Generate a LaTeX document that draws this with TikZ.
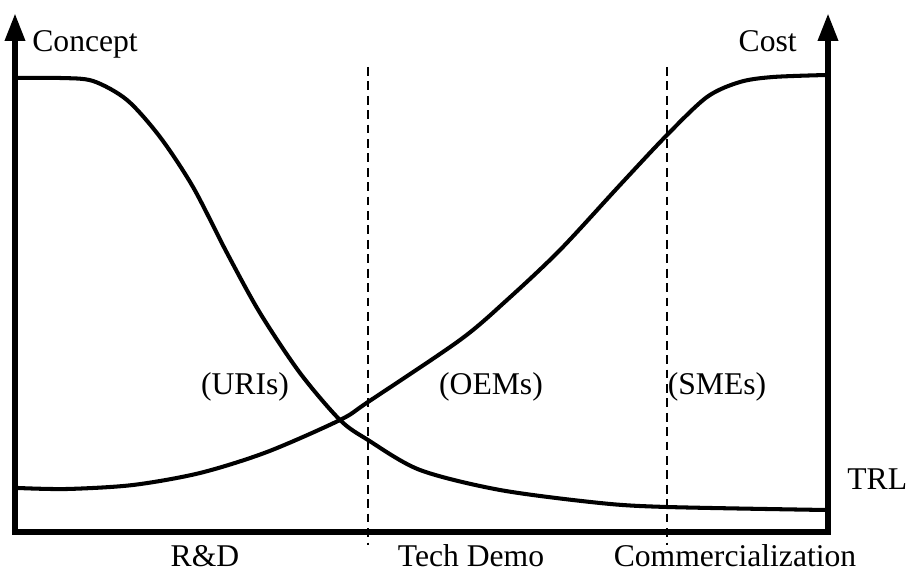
\documentclass[tikz,border=0pt]{standalone}
\usepackage{fontspec}
\setmainfont{Liberation Serif}
\usetikzlibrary{arrows.meta}
\tikzset{
    axisline/.style={line width=3.6pt, line join=miter, {Triangle[length=0.56cm,width=0.38cm]}-{Triangle[length=0.56cm,width=0.38cm]}},
    trend/.style={line width=2.3pt},
    phase/.style={line width=0.8pt, dash pattern=on 5pt off 3.2pt},
    lbl/.style={inner sep=0pt, anchor=base, font=\fontsize{18}{22}\selectfont}
}

\begin{document}
\begin{tikzpicture}
            \useasboundingbox                                             ( 0.00, 0.00) rectangle (18.14,11.44);
            \draw[axisline] ( 0.30,11.18) -- ( 0.30, 0.80) -- (16.56, 0.80) -- (16.56,11.18);
            \draw[phase]    ( 7.36,10.10) -- ( 7.36, 0.54);
            \draw[phase]    (13.34,10.10) -- (13.34, 0.54);
            % concept curve
            \draw[trend] plot[smooth] coordinates {(0.32,9.88) (1.20,9.88) (1.86,9.82) (2.54,9.44) (3.20,8.70) (3.86,7.70) (4.54,6.38) (5.20,5.18) (6.00,3.98) (6.80,3.04) (7.36,2.64) (8.40,2.04) (10.00,1.64) (12.00,1.38) (13.34,1.30) (16.52,1.24)};
            % cost curve
            \draw[trend] plot[smooth] coordinates {(0.36,1.68) (1.34,1.66) (2.66,1.74) (4.00,1.98) (5.34,2.40) (6.80,3.04) (7.36,3.40) (9.20,4.64) (10.14,5.44) (11.20,6.44) (12.40,7.74) (13.34,8.74) (14.14,9.50) (14.80,9.80) (15.46,9.90) (16.54,9.94)};
            \node[lbl, anchor=base west] (concept) at ( 0.64,10.40) {Concept};
            \node[lbl, anchor=base east] (cost)    at (15.94,10.40) {Cost};
            \node[lbl, anchor=base west] (trl)     at (16.94, 1.64) {TRL};
            \node[lbl] (rnd)  at ( 4.10, 0.12) {R\&D};
            \node[lbl] (demo) at ( 9.42, 0.12) {Tech Demo};
            \node[lbl] (comm) at (14.70, 0.12) {Commercialization};
            \node[lbl] (uris) at ( 4.90, 3.54) {(URIs)};
            \node[lbl] (oems) at ( 9.82, 3.54) {(OEMs)};
            \node[lbl] (smes) at (14.34, 3.54) {(SMEs)};
\end{tikzpicture}
\end{document}
